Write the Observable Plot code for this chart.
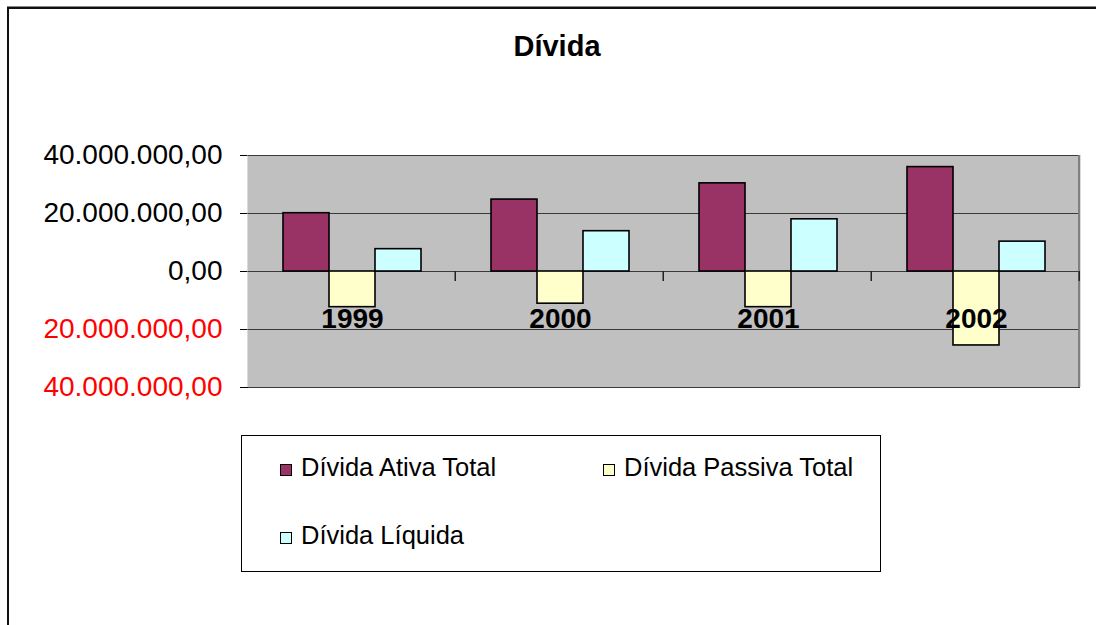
<!DOCTYPE html>
<html>
<head>
<meta charset="utf-8">
<script src="https://cdn.jsdelivr.net/npm/d3@7"></script>
<script src="https://cdn.jsdelivr.net/npm/@observablehq/plot@0.6"></script>
<style>
  html, body { margin: 0; padding: 0; background: #fff; }
  #wrap { position: relative; width: 1096px; height: 625px; overflow: hidden; font-family: "Liberation Sans", Arial, sans-serif; }
  #border { position: absolute; left: 7px; top: 7px; width: 1200px; height: 700px; border-left: 2px solid #111; border-top: 2px solid #111; box-shadow: 0 -1px 0 #888; }
  #title { position: absolute; left: 457px; width: 200px; top: 32px; text-align: center; font-weight: bold; font-size: 29px; line-height: 29px; color: #000; }
  #chart { position: absolute; left: 0; top: 0; }
  #legend { position: absolute; left: 241px; top: 435px; width: 638px; height: 135px; border: 1px solid #000; background: #fff; }
  .item { position: absolute; display: flex; align-items: center; font-size: 25.5px; line-height: 30px; color: #000; white-space: nowrap; }
  .sw { width: 10px; height: 10px; border: 1.5px solid #000; margin-right: 9px; margin-top: 6px; }
</style>
</head>
<body>
<div id="wrap">
  <div id="border"></div>
  <div id="title">Dívida</div>
  <div id="chart"></div>
  <div id="legend"></div>
</div>
<script>
const years = ["1999", "2000", "2001", "2002"];
const series = ["Dívida Ativa Total", "Dívida Passiva Total", "Dívida Líquida"];
const ativa = [20.1e6, 24.8e6, 30.4e6, 36.0e6];
const passiva = [-12.3e6, -11.1e6, -12.3e6, -25.5e6];
const liquida = [7.7e6, 13.9e6, 18.0e6, 10.3e6];
const seriesColors = ["#993366", "#FFFFCC", "#CCFFFF"];
const yTicks = [40e6, 20e6, 0, -20e6, -40e6];

const values = [ativa, passiva, liquida];
const table = [];
years.forEach((yr, i) => series.forEach((s, j) => table.push({year: yr, series: s, value: values[j][i], color: seriesColors[j]})));

const W = 1096, H = 400, ML = 248, MR = 16, MT = 155, MB = 13;
const facetW = (W - ML - MR) / years.length;
const locale = d3.formatLocale({decimal: ",", thousands: ".", grouping: [3], currency: ["", ""]});
const fmt = locale.format(",.2f");

const plot = Plot.plot({
  width: W, height: H,
  marginLeft: ML, marginRight: MR, marginTop: MT, marginBottom: MB,
  style: {fontFamily: "'Liberation Sans', Arial, sans-serif", background: "transparent", color: "#000", overflow: "visible"},
  fx: {domain: years, padding: 0, axis: null},
  x: {domain: series, paddingInner: 0, paddingOuter: 0.745, axis: null},
  y: {domain: [-40e6, 40e6], ticks: yTicks, tickSize: 8, tickFormat: () => "", line: true, label: null},
  color: {type: "identity"},
  marks: [
    Plot.rect(years, {fx: d => d, y1: () => -40e6, y2: () => 40e6, insetLeft: -0.6, insetRight: -0.6, fill: "#c0c0c0"}),
    Plot.ruleY(yTicks, {stroke: "#3a3a3a", strokeWidth: 1}),
    Plot.rect([0], {fx: () => years[years.length - 1], y1: -40e6, y2: 40e6, insetLeft: facetW - 2, fill: "#808080"}),
    Plot.rect(years, {fx: d => d, y1: () => 0, y2: () => 0, insetLeft: facetW - 1.5, insetBottom: -10, fill: "#222"}),
    Plot.barY(table, {fx: "year", x: "series", y: "value", fill: "color", stroke: "#000", strokeWidth: 1.6}),
    Plot.text(years, {fx: d => d, text: d => d, frameAnchor: "middle", dy: 48, fontSize: 28, fontWeight: "bold", fill: "#000"}),
    Plot.text(yTicks, {fx: () => years[0], y: d => d, text: d => fmt(Math.abs(d)), frameAnchor: "left", dx: -26, textAnchor: "end", fontSize: 28, fill: d => d < 0 ? "#ff0000" : "#000000"})
  ]
});
document.getElementById("chart").appendChild(plot);

const legend = document.getElementById("legend");
const legendPos = [[38, 16], [361, 16], [38, 84]];
series.forEach((s, j) => {
  const it = document.createElement("div");
  it.className = "item";
  it.style.left = legendPos[j][0] + "px";
  it.style.top = legendPos[j][1] + "px";
  const sw = document.createElement("span");
  sw.className = "sw";
  sw.style.background = seriesColors[j];
  const tx = document.createElement("span");
  tx.textContent = s;
  it.appendChild(sw); it.appendChild(tx);
  legend.appendChild(it);
});
</script>
</body>
</html>
